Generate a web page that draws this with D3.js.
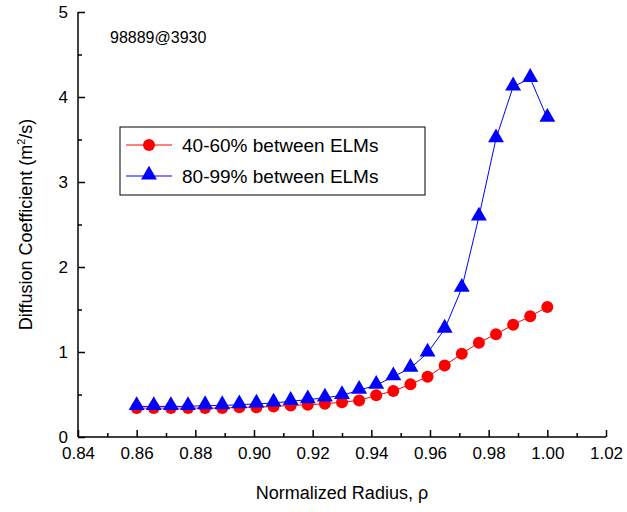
<!DOCTYPE html>
<html>
<head>
<meta charset="utf-8">
<script src="https://d3js.org/d3.v7.min.js"></script>
<style>
  body { margin: 0; background: #fff; }
  text { font-family: "Liberation Sans", Arial, sans-serif; }
</style>
</head>
<body>
<script>
var rho = d3.range(25).map(function (i) { return 0.86 + i * 0.14 / 24; });
var red = [0.34,0.34,0.34,0.34,0.34,0.34,0.35,0.35,0.36,0.37,0.38,0.39,0.41,0.43,0.49,0.54,0.62,0.71,0.84,0.98,1.11,1.21,1.32,1.42,1.53];
var blue = [0.36,0.36,0.36,0.36,0.37,0.37,0.38,0.39,0.40,0.42,0.44,0.46,0.49,0.55,0.61,0.71,0.81,0.99,1.27,1.75,2.59,3.51,4.12,4.22,3.75];
var xTicks = [0.84,0.86,0.88,0.90,0.92,0.94,0.96,0.98,1.00,1.02];
var yTicks = [0,1,2,3,4,5];

var W = 627, H = 512;
var L = 78, R = 606, T = 12, B = 437;
var svg = d3.select("body").append("svg").attr("width", W).attr("height", H);
var x = d3.scaleLinear().domain([0.84, 1.02]).range([L, R]);
var y = d3.scaleLinear().domain([0, 5]).range([B, T]);

// axes
var ax = svg.append("g").attr("transform", "translate(0," + B + ")")
  .call(d3.axisBottom(x).tickValues(xTicks).tickFormat(d3.format(".2f")).tickSize(-7).tickPadding(10));
var axm = svg.append("g").attr("transform", "translate(0," + B + ")")
  .call(d3.axisBottom(x).tickValues(d3.range(9).map(function (i) { return 0.85 + i * 0.02; })).tickFormat("").tickSize(-4));
var ay = svg.append("g").attr("transform", "translate(" + L + ",0)")
  .call(d3.axisLeft(y).tickValues(yTicks).tickFormat(d3.format("d")).tickSize(-7).tickPadding(10));
var aym = svg.append("g").attr("transform", "translate(" + L + ",0)")
  .call(d3.axisLeft(y).tickValues([0.5,1.5,2.5,3.5,4.5]).tickFormat("").tickSize(-4));
[ax, axm, ay, aym].forEach(function (g) {
  g.select(".domain").remove();
  g.selectAll("line").attr("stroke", "#000").attr("stroke-width", 1.5);
  g.selectAll("text").attr("font-size", 17).attr("fill", "#000");
});
svg.append("line").attr("x1", L).attr("x2", R).attr("y1", B).attr("y2", B).attr("stroke", "#000").attr("stroke-width", 1.5);
svg.append("line").attr("x1", L).attr("x2", L).attr("y1", T).attr("y2", B).attr("stroke", "#000").attr("stroke-width", 1.5);

// labels
svg.append("text").attr("x", (L + R) / 2).attr("y", 499).attr("text-anchor", "middle")
  .attr("font-size", 18).text("Normalized Radius, ρ");
var yl = svg.append("text").attr("transform", "translate(32," + (B + T) / 2 + ") rotate(-90)")
  .attr("text-anchor", "middle").attr("font-size", 18);
yl.append("tspan").text("Diffusion Coefficient (m");
yl.append("tspan").attr("font-size", 11).attr("dy", -7).text("2");
yl.append("tspan").attr("dy", 7).text("/s)");
svg.append("text").attr("x", 110).attr("y", 43).attr("font-size", 16).text("98889@3930");

// series
var line = d3.line().x(function (d) { return x(d[0]); }).y(function (d) { return y(d[1]); });
var rd = rho.map(function (r, i) { return [r, red[i]]; });
var bd = rho.map(function (r, i) { return [r, blue[i]]; });
svg.append("path").datum(rd).attr("d", line).attr("fill", "none").attr("stroke", "#ff0000").attr("stroke-width", 1);
svg.append("path").datum(bd).attr("d", line).attr("fill", "none").attr("stroke", "#0000ff").attr("stroke-width", 1);
svg.selectAll(".dot").data(rd).enter().append("circle")
  .attr("cx", function (d) { return x(d[0]); }).attr("cy", function (d) { return y(d[1]); })
  .attr("r", 6).attr("fill", "#ff0000");
var tri = d3.symbol().type(d3.symbolTriangle).size(110);
svg.selectAll(".tri").data(bd).enter().append("path").attr("d", tri)
  .attr("transform", function (d) { return "translate(" + x(d[0]) + "," + (y(d[1]) - 1) + ")"; })
  .attr("fill", "#0000ff");

// legend
svg.append("rect").attr("x", 120).attr("y", 127).attr("width", 305).attr("height", 68)
  .attr("fill", "#fff").attr("stroke", "#000").attr("stroke-width", 1);
var lg = [["40-60% between ELMs", "#ff0000", "c"], ["80-99% between ELMs", "#0000ff", "t"]];
lg.forEach(function (d, i) {
  var cy = 145 + i * 31;
  svg.append("line").attr("x1", 126).attr("x2", 172).attr("y1", cy).attr("y2", cy).attr("stroke", d[1]);
  if (d[2] === "c") svg.append("circle").attr("cx", 149).attr("cy", cy).attr("r", 6).attr("fill", d[1]);
  else svg.append("path").attr("d", tri).attr("transform", "translate(149," + (cy - 1) + ")").attr("fill", d[1]);
  svg.append("text").attr("x", 182).attr("y", cy + 7).attr("font-size", 19).text(d[0]);
});
</script>
</body>
</html>
